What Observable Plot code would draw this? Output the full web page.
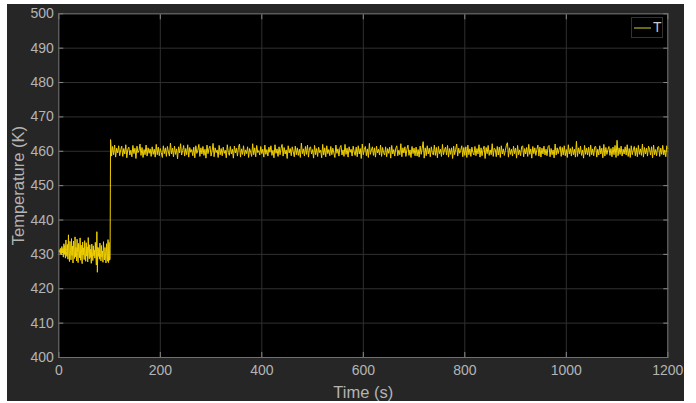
<!DOCTYPE html>
<html>
<head>
<meta charset="utf-8">
<script src="https://cdn.jsdelivr.net/npm/d3@7"></script>
<script src="https://cdn.jsdelivr.net/npm/@observablehq/plot@0.6"></script>
<style>
  html, body { margin: 0; padding: 0; background: #ffffff; }
  #panel { position: absolute; left: 7px; top: 4px; width: 677px; height: 397px; background: #262626; overflow: hidden; }
  #legend { position: absolute; left: 624px; top: 13px; width: 30px; height: 19px; border: 1px solid #333333; background: #000000;
            font-family: Arial, "Liberation Sans", sans-serif; font-size: 14px; color: #c8c8c8; }
  #legend svg { position: absolute; left: 2px; top: 9px; }
  #legend span { position: absolute; left: 21px; top: 1px; }
</style>
</head>
<body>
<div id="panel"><div id="legend"><svg width="18" height="2"><line x1="0" y1="1" x2="17" y2="1" stroke="#d8cc30" stroke-width="1"/></svg><span>T</span></div></div>
<script>
// ---- data ----
const seriesName = "T";
const xTicks = [0, 200, 400, 600, 800, 1000, 1200];
const yTicks = [400, 410, 420, 430, 440, 450, 460, 470, 480, 490, 500];

// before the set-point step: t = 0 .. 101 s, every 1 s
const preStart = 0, preStep = 1;
const preValues = [
  431.0, 430.6, 431.4, 430.2, 431.8, 429.9, 432.3, 430.4, 431.7, 429.2,
  433.1, 430.0, 432.6, 428.9, 434.2, 430.8, 429.4, 432.9, 428.6, 435.7,
  430.3, 427.9, 433.8, 431.2, 428.4, 434.6, 429.7, 432.4, 427.5, 433.9,
  430.9, 428.8, 435.1, 429.3, 432.0, 428.1, 434.4, 430.5, 427.6, 433.2,
  431.6, 429.0, 434.8, 428.3, 432.7, 430.1, 427.3, 433.6, 429.8, 431.9,
  428.5, 434.0, 430.7, 428.0, 433.4, 429.5, 432.2, 427.8, 434.9, 430.2,
  428.7, 432.8, 429.1, 431.5, 427.4, 433.0, 430.4, 428.2, 432.5, 429.6,
  431.3, 428.9, 433.5, 430.0, 426.9, 436.6, 424.8, 432.1, 429.4, 431.8,
  428.6, 433.3, 430.3, 428.1, 432.6, 429.2, 431.0, 427.7, 433.7, 430.6,
  428.4, 432.0, 429.8, 427.5, 433.1, 430.2, 428.0, 434.3, 427.6, 433.5,
  428.3, 428.6
];

// the step overshoot sample
const stepTime = 102, stepValue = 463.4;

// after the step: t = 104 .. 1200 s, every 2 s
const postStart = 104, postStep = 2;
const postValues = [
  458.6, 461.4, 459.0, 461.8, 458.3, 460.9, 459.5, 461.6, 458.7, 460.4,
  461.5, 458.5, 460.8, 459.2, 461.9, 458.1, 460.6, 461.2, 458.9, 460.3,
  458.4, 461.7, 459.3, 460.9, 457.9, 461.5, 459.6, 460.2, 462.1, 458.8,
  461.1, 458.2, 460.5, 459.0, 461.8, 458.6, 461.0, 459.4, 460.7, 458.5,
  461.3, 459.1, 460.6, 458.3, 462.0, 459.0, 461.2, 458.7, 460.8, 459.6,
  458.2, 461.6, 459.3, 461.0, 458.5, 461.4, 459.8, 458.6, 462.4, 459.2,
  460.9, 458.4, 461.5, 459.1, 460.7, 457.8, 461.3, 459.5, 462.2, 458.9,
  460.2, 461.7, 458.6, 460.8, 459.0, 461.9, 458.3, 461.1, 459.7, 460.5,
  458.7, 461.2, 458.1, 461.6, 459.4, 460.3, 462.0, 458.5, 461.0, 459.2,
  461.4, 458.8, 460.6, 458.0, 461.8, 459.3, 460.9, 461.5, 458.6, 460.1,
  462.3, 458.4, 461.0, 459.6, 460.4, 458.2, 461.7, 459.0, 460.8, 458.7,
  461.2, 459.4, 460.3, 458.1, 461.9, 459.7, 458.8, 461.4, 459.2, 460.6,
  458.0, 461.5, 459.5, 460.9, 458.6, 461.1, 462.1, 458.3, 460.7, 459.1,
  461.6, 458.7, 460.4, 459.3, 461.3, 458.2, 460.8, 459.8, 458.5, 462.2,
  459.0, 461.0, 458.4, 461.7, 459.6, 460.2, 458.9, 461.4, 459.3, 460.6,
  458.3, 461.8, 459.1, 460.5, 458.6, 461.2, 459.7, 461.6, 458.8, 460.3,
  458.1, 461.9, 459.4, 460.7, 458.5, 461.3, 459.0, 460.9, 462.0, 458.6,
  461.1, 459.2, 460.4, 457.9, 461.6, 459.5, 460.8, 458.7, 461.3, 459.9,
  458.4, 461.5, 459.0, 461.0, 458.8, 460.6, 458.2, 462.4, 459.3, 460.7,
  458.6, 461.4, 459.1, 461.8, 458.3, 460.9, 461.3, 459.2, 460.5, 458.0,
  461.7, 459.0, 460.8, 458.5, 461.2, 459.6, 460.3, 458.1, 462.0, 458.9,
  461.0, 458.4, 461.6, 459.3, 460.5, 458.7, 461.4, 459.0, 460.9, 459.5,
  458.2, 461.8, 459.4, 460.7, 458.6, 461.1, 461.7, 458.9, 460.4, 458.5,
  462.0, 459.1, 460.9, 458.3, 461.3, 459.7, 460.6, 458.6, 461.5, 459.8,
  458.8, 461.2, 458.4, 461.6, 459.2, 460.8, 457.9, 462.1, 459.0, 460.5,
  461.4, 458.7, 460.7, 458.2, 462.3, 459.1, 460.4, 461.3, 458.8, 461.0,
  458.3, 461.5, 459.5, 460.6, 458.9, 461.8, 458.5, 461.1, 459.6, 458.9,
  461.3, 458.4, 460.8, 459.4, 461.2, 458.0, 461.7, 459.2, 460.5, 458.6,
  460.9, 461.6, 458.7, 460.3, 459.0, 462.2, 458.4, 461.0, 459.5, 461.3,
  458.5, 460.6, 461.8, 458.8, 460.4, 458.2, 461.4, 459.3, 460.9, 458.7,
  461.2, 458.6, 460.5, 458.3, 461.5, 459.1, 460.8, 462.8, 458.0, 461.0,
  458.7, 461.6, 459.2, 460.9, 458.4, 461.3, 459.6, 458.9, 461.8, 458.8,
  461.1, 458.1, 461.4, 459.3, 460.6, 458.5, 462.0, 459.0, 460.4, 461.2,
  458.9, 461.7, 458.3, 460.8, 459.1, 461.0, 457.9, 461.5, 459.0, 460.6,
  462.1, 458.6, 460.9, 459.4, 460.3, 461.6, 458.4, 461.1, 458.8, 461.3,
  458.2, 461.8, 459.0, 460.7, 458.5, 461.2, 459.6, 458.9, 461.4, 458.7,
  460.8, 459.2, 461.9, 458.3, 461.0, 458.7, 460.5, 461.5, 457.9, 461.1,
  459.3, 461.7, 458.8, 460.4, 459.0, 462.2, 458.5, 460.9, 460.6, 458.4,
  461.4, 458.9, 461.2, 458.2, 461.6, 459.2, 460.7, 458.8, 460.3, 461.8,
  462.5, 458.3, 461.0, 459.1, 460.6, 458.6, 461.5, 459.3, 460.9, 458.0,
  461.7, 459.0, 460.4, 458.7, 461.3, 461.6, 458.4, 460.8, 459.2, 461.1,
  458.5, 462.0, 459.1, 460.7, 458.0, 461.4, 459.3, 461.0, 458.8, 460.5,
  461.8, 458.6, 461.2, 458.3, 460.9, 459.2, 461.5, 458.9, 460.6, 458.7,
  461.3, 461.7, 458.4, 460.8, 459.0, 460.4, 458.1, 462.1, 458.9, 461.0,
  459.3, 460.7, 461.4, 458.5, 461.1, 458.9, 461.6, 458.7, 460.5, 458.2,
  461.9, 459.2, 460.8, 458.6, 461.3, 459.0, 460.6, 458.3, 462.9, 458.5,
  461.0, 459.3, 461.5, 458.8, 460.4, 458.0, 461.7, 459.1, 460.9, 458.9,
  461.2, 458.5, 461.8, 459.0, 460.7, 458.7, 461.3, 461.4, 458.3, 460.6,
  458.9, 461.6, 459.2, 460.9, 458.1, 462.0, 458.6, 461.1, 459.1, 460.5,
  461.4, 458.8, 460.8, 458.4, 461.2, 459.0, 461.7, 458.2, 463.2, 458.7,
  461.0, 459.1, 461.5, 458.6, 460.6, 459.2, 461.3, 458.9, 461.9, 458.5,
  460.8, 458.2, 461.6, 459.0, 460.4, 461.4, 458.7, 461.0, 458.4, 461.7,
  459.1, 460.7, 458.8, 462.1, 458.3, 461.1, 459.2, 460.9, 458.6, 461.5,
  460.6, 458.9, 461.3, 458.1, 461.8, 459.0, 460.5, 458.7, 461.2, 461.4,
  458.5, 460.9, 459.1, 461.7, 458.9, 460.4, 458.4, 461.6, 460.8
];

// ---- build table ----
const data = [
  ...preValues.map((v, i) => ({t: preStart + i * preStep, T: v})),
  {t: stepTime, T: stepValue},
  ...postValues.map((v, i) => ({t: postStart + i * postStep, T: v}))
];

const tickColor = "#b4b4b4";
const font = "Arial, 'Liberation Sans', Helvetica, sans-serif";
const fmt = d => String(d);

const chart = Plot.plot({
  width: 677,
  height: 397,
  marginLeft: 51.3,
  marginTop: 9.3,
  marginRight: 16.7,
  marginBottom: 44,
  style: {background: "transparent", color: tickColor, fontFamily: font, fontSize: "14px", overflow: "visible"},
  x: {domain: [0, 1200], ticks: xTicks, label: null, tickFormat: fmt},
  y: {domain: [400, 500], ticks: yTicks, label: null, tickFormat: fmt},
  marks: [
    Plot.frame({fill: "#000000"}),
    Plot.gridX(xTicks, {stroke: "#303030", strokeOpacity: 1}),
    Plot.gridY(yTicks, {stroke: "#303030", strokeOpacity: 1}),
    // inward tick marks on all four sides
    Plot.axisX(xTicks, {anchor: "bottom", tickSize: 5, dy: -5, text: null, stroke: "#8a8a8a", label: null}),
    Plot.axisX(xTicks, {anchor: "top", tickSize: 5, dy: 5, text: null, stroke: "#8a8a8a", label: null}),
    Plot.axisY(yTicks, {anchor: "left", tickSize: 5, dx: 5, text: null, stroke: "#8a8a8a", label: null}),
    Plot.axisY(yTicks, {anchor: "right", tickSize: 5, dx: -5, text: null, stroke: "#8a8a8a", label: null}),
    Plot.line(data, {x: "t", y: "T", stroke: "#f0d000", strokeWidth: 1}),
    Plot.frame({stroke: "#707070"}),
    // tick labels
    Plot.axisX(xTicks, {anchor: "bottom", tickSize: 0, tickPadding: 8, fill: tickColor, fontSize: 14, label: null, tickFormat: fmt}),
    Plot.axisY(yTicks, {anchor: "left", tickSize: 0, tickPadding: 5, fill: tickColor, fontSize: 14, label: null, tickFormat: fmt}),
    // axis titles
    Plot.text(["Time (s)"], {frameAnchor: "bottom", dy: 35, lineAnchor: "middle", textAnchor: "middle", fill: tickColor, fontSize: 16.5}),
    Plot.text(["Temperature (K)"], {frameAnchor: "left", dx: -40, rotate: -90, lineAnchor: "middle", textAnchor: "middle", fill: tickColor, fontSize: 16.5})
  ]
});

document.getElementById("panel").prepend(chart);
</script>
</body>
</html>
